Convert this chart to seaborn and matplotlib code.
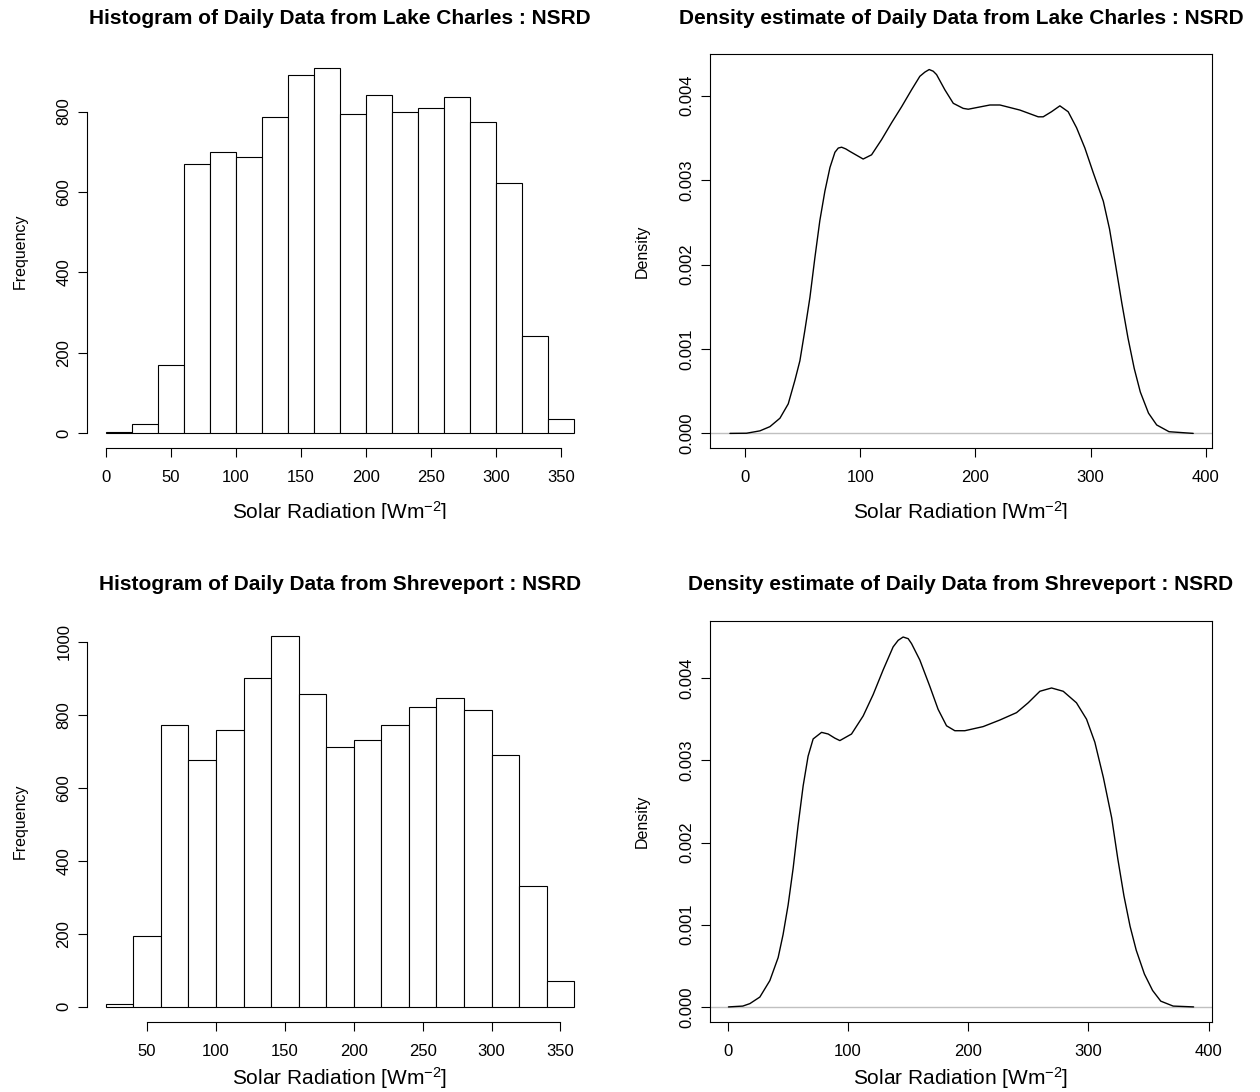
import numpy as np
import pandas as pd
import seaborn as sns
import matplotlib.pyplot as plt
from matplotlib.patches import Rectangle
from matplotlib.ticker import FormatStrFormatter

# R 的 base graphics 风格：白底、黑线、没有网格
sns.set_theme(style="ticks")
plt.rcParams["font.family"] = ["Liberation Sans", "DejaVu Sans"]
plt.rcParams["mathtext.fontset"] = "custom"
plt.rcParams["mathtext.rm"] = "Liberation Sans"
plt.rcParams["mathtext.it"] = "Liberation Sans:italic"
plt.rcParams["mathtext.bf"] = "Liberation Sans:bold"
plt.rcParams["text.color"] = "black"
plt.rcParams["axes.labelcolor"] = "black"

# ---- 数据（从图上读出来的） ----
# Lake Charles 直方图，20 W/m2 一格
lc_edges = [0, 20, 40, 60, 80, 100, 120, 140, 160, 180, 200, 220, 240, 260, 280, 300, 320, 340, 360]
lc_counts = [3, 23, 170, 670, 700, 688, 787, 890, 908, 795, 841, 798, 810, 837, 773, 623, 243, 35]

# Shreveport 直方图
sh_edges = [20, 40, 60, 80, 100, 120, 140, 160, 180, 200, 220, 240, 260, 280, 300, 320, 340, 360]
sh_counts = [7, 193, 771, 676, 757, 900, 1015, 858, 712, 731, 773, 820, 847, 812, 689, 331, 70]

# Lake Charles 密度曲线
lc_dens_x = [-13, 1.4, 13, 21.7, 30.4, 37.6, 43.4, 47.7, 52, 56.4, 60.7, 65, 69.4, 73.8, 78.1,
             81, 83.9, 87.5, 91.1, 102.6, 109.9, 118.6, 127.3, 136, 144.6, 151.8, 156.2, 159.9,
             163.4, 166.3, 173.5, 180.8, 189.4, 193.8, 212.6, 221.3, 238.6, 254.5, 258.8, 266,
             273.3, 280.5, 287.8, 295, 302.2, 311, 316.4, 321.8, 327.1, 332.4, 337.8, 343.1,
             350.2, 357.3, 368, 389]
lc_dens_y = [0.0, 0.000002, 0.00003, 0.00008, 0.00018, 0.00035, 0.00063, 0.00086, 0.00122,
             0.00161, 0.00208, 0.00252, 0.00287, 0.00315, 0.00333, 0.00338, 0.00339, 0.00337,
             0.00334, 0.00325, 0.00330, 0.00348, 0.00368, 0.00387, 0.00407, 0.00423, 0.00428,
             0.00431, 0.00429, 0.00425, 0.00407, 0.00391, 0.00385, 0.00384, 0.00389, 0.00389,
             0.00383, 0.00375, 0.00375, 0.00381, 0.00388, 0.00381, 0.00362, 0.00338, 0.00309,
             0.00275, 0.00242, 0.00198, 0.00154, 0.00113, 0.00077, 0.00049, 0.00024, 0.00010,
             0.00002, 0.0]

# Shreveport 密度曲线
sh_dens_x = [0.7, 12.6, 18.5, 26.8, 35.1, 42, 46.1, 50.3, 54.5, 58.6, 62.8, 66.9, 71.1, 78.1,
             83.6, 89.1, 93.3, 103, 112.7, 121, 129.3, 137.6, 141.8, 145.9, 150.1, 152.9, 159.8,
             168.1, 175, 182, 188.9, 197.2, 212.4, 226.3, 240.2, 249.9, 259.6, 269.3, 279, 290,
             298.4, 305.3, 312.4, 319.3, 324.4, 329.5, 334.6, 339.7, 346.5, 353.3, 360.1, 370.4,
             387.4]
sh_dens_y = [0.0, 0.00001, 0.00004, 0.00012, 0.00032, 0.00060, 0.00088, 0.00124, 0.00169,
             0.00221, 0.00269, 0.00305, 0.00326, 0.00334, 0.00332, 0.00327, 0.00324, 0.00332,
             0.00354, 0.00380, 0.00410, 0.00438, 0.00446, 0.00450, 0.00448, 0.00442, 0.00422,
             0.00390, 0.00362, 0.00342, 0.00336, 0.00336, 0.00341, 0.00349, 0.00358, 0.00370,
             0.00384, 0.00388, 0.00384, 0.00370, 0.00350, 0.00322, 0.00279, 0.00230, 0.00180,
             0.00135, 0.00098, 0.00069, 0.00040, 0.00020, 0.00007, 0.00001, 0.0]

hist_xticks_lc = [0, 50, 100, 150, 200, 250, 300, 350]
hist_yticks_lc = [0, 200, 400, 600, 800]
hist_xticks_sh = [50, 100, 150, 200, 250, 300, 350]
hist_yticks_sh = [0, 200, 400, 600, 800, 1000]
dens_xticks = [0, 100, 200, 300, 400]
dens_yticks = [0.000, 0.001, 0.002, 0.003, 0.004]

xlabel = "Solar Radiation [Wm$^{-2}$]"

W, H = 1260, 1092
fig = plt.figure(figsize=(W / 100, H / 100), dpi=100)


def axes_px(left, top, right, bottom):
    # 按像素位置放子图，跟原图对齐方便一点
    return fig.add_axes([left / W, 1 - bottom / H, (right - left) / W, (bottom - top) / H])


def text_px(x, y, s, **kw):
    return fig.text(x / W, 1 - y / H, s, color="black", **kw)


def style_axes(ax):
    ax.tick_params(direction="out", length=6.2, width=0.8, labelsize=12, pad=5,
                   colors="black", top=False, right=False)
    ax.tick_params(axis="x", pad=10)
    for t in ax.get_yticklabels():
        t.set_rotation(90)
        t.set_va("center")
    for sp in ax.spines.values():
        sp.set_color("black")
        sp.set_linewidth(0.8)
    ax.set_xlabel("")
    ax.set_ylabel("")


def draw_hist(ax, edges, counts, xticks, yticks, xlim, ylim):
    centers = [(a + b) / 2 for a, b in zip(edges[:-1], edges[1:])]
    sns.histplot(x=centers, weights=counts, bins=edges, color="white", edgecolor="black",
                 linewidth=0.8, alpha=1, ax=ax)
    ax.set_xlim(*xlim)
    ax.set_ylim(*ylim)
    ax.set_xticks(xticks)
    ax.set_yticks(yticks)
    sns.despine(ax=ax)
    ax.spines["bottom"].set_bounds(xticks[0], xticks[-1])
    ax.spines["left"].set_bounds(yticks[0], yticks[-1])
    style_axes(ax)


def draw_density(ax, xs, ys, xlim, ylim):
    df = pd.DataFrame({"x": xs, "y": ys})
    ax.axhline(0, color="#c0c0c0", linewidth=1.0, zorder=1)
    sns.lineplot(data=df, x="x", y="y", color="black", linewidth=1.0, ax=ax, zorder=2)
    ax.set_xlim(*xlim)
    ax.set_ylim(*ylim)
    ax.set_xticks(dens_xticks)
    ax.set_yticks(dens_yticks)
    ax.yaxis.set_major_formatter(FormatStrFormatter("%.3f"))
    style_axes(ax)


# 左上：Lake Charles 直方图
ax1 = axes_px(87, 53.5, 593, 448)
draw_hist(ax1, lc_edges, lc_counts, hist_xticks_lc, hist_yticks_lc, (-14.4, 374.4), (-36.3, 944.3))

# 右上：Lake Charles 密度
ax2 = axes_px(710, 53.5, 1212, 448)
draw_density(ax2, lc_dens_x, lc_dens_y, (-30.3, 405.3), (-0.000173, 0.0045))

# 左下：Shreveport 直方图
ax3 = axes_px(87, 621.4, 593, 1021.7)
draw_hist(ax3, sh_edges, sh_counts, hist_xticks_sh, hist_yticks_sh, (6.4, 373.6), (-40.6, 1055.6))

# 右下：Shreveport 密度
ax4 = axes_px(710, 621.4, 1212, 1021.7)
draw_density(ax4, sh_dens_x, sh_dens_y, (-14.65, 402.7), (-0.00018, 0.00469))

title_kw = dict(ha="center", va="center", fontsize=15, fontweight="bold")
text_px(340, 19, "Histogram of Daily Data from Lake Charles : NSRD", **title_kw)
text_px(961, 19, "Density estimate of Daily Data from Lake Charles : NSRD", **title_kw)
text_px(340, 585, "Histogram of Daily Data from Shreveport : NSRD", **title_kw)
text_px(961, 585, "Density estimate of Daily Data from Shreveport : NSRD", **title_kw)

xl_kw = dict(ha="center", va="baseline", fontsize=15)
text_px(340, 519, xlabel, **xl_kw)
text_px(961, 519, xlabel, **xl_kw)
text_px(340, 1085, xlabel, **xl_kw)
text_px(961, 1085, xlabel, **xl_kw)

yl_kw = dict(ha="center", va="center", rotation=90, fontsize=11.5)
text_px(20, 251, "Frequency", **yl_kw)
text_px(642.5, 251, "Density", **yl_kw)
text_px(20, 821.5, "Frequency", **yl_kw)
text_px(642.5, 821.5, "Density", **yl_kw)

# 原图上排的 x 轴标题被截掉了一半，这里用白块盖住
fig.add_artist(Rectangle((0, 1 - 568 / H), 1, (568 - 518.5) / H, transform=fig.transFigure,
                         facecolor="white", edgecolor="none", zorder=10))

fig.savefig("out.png", dpi=100, facecolor="white")
